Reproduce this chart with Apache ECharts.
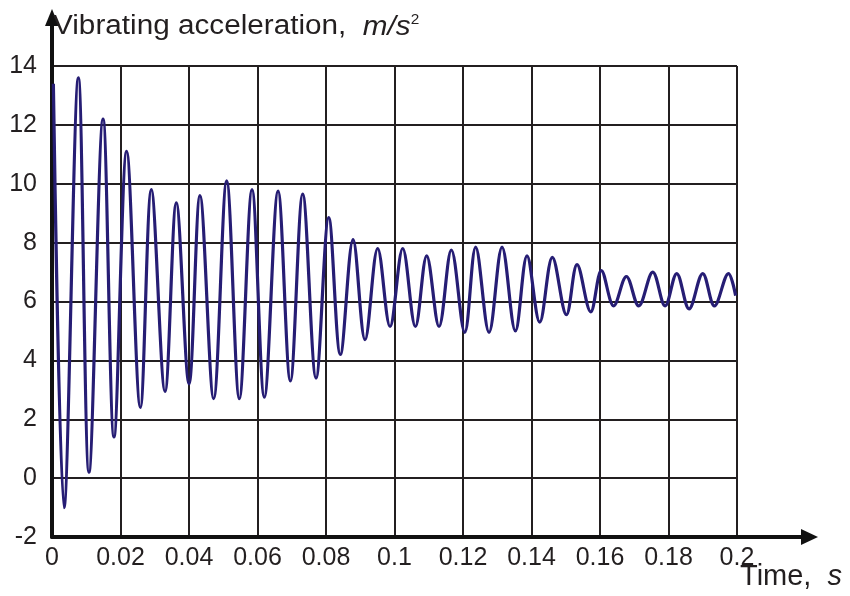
<!DOCTYPE html>
<html>
<head>
<meta charset="utf-8">
<script src="https://cdn.jsdelivr.net/npm/echarts@6/dist/echarts.min.js"></script>
<style>
  html, body { margin: 0; padding: 0; background: #ffffff; }
  #chart { width: 850px; height: 596px; }
</style>
</head>
<body>
<div id="chart"></div>
<script>
// Time of each peak / trough of the recorded signal, s
const times = [
  0.0004, 0.0035, 0.0077, 0.0108, 0.0149, 0.0181, 0.0218, 0.0258,
  0.0290, 0.0330, 0.0363, 0.0400, 0.0432, 0.0472, 0.0510, 0.0547,
  0.0584, 0.0620, 0.0660, 0.0696, 0.0732, 0.0771, 0.0808, 0.0842,
  0.0879, 0.0914, 0.0951, 0.0987, 0.1024, 0.1061, 0.1094, 0.1130,
  0.1166, 0.1205, 0.1237, 0.1276, 0.1314, 0.1353, 0.1387, 0.1424,
  0.1461, 0.1502, 0.1533, 0.1573, 0.1604, 0.1640, 0.1677, 0.1713,
  0.1754, 0.1790, 0.1824, 0.1860, 0.1900, 0.1934, 0.1975, 0.1996
];

// Vibrating acceleration at those instants, m/s^2
const acceleration = [
  13.4, -1.0, 13.6, 0.2, 12.2, 1.4, 11.1, 2.4,
  9.8, 2.95, 9.35, 3.2, 9.6, 2.7, 10.1, 2.7,
  9.8, 2.75, 9.75, 3.3, 9.65, 3.4, 8.85, 4.2,
  8.1, 4.7, 7.8, 5.15, 7.8, 5.15, 7.55, 5.15,
  7.75, 4.95, 7.85, 4.95, 7.85, 5.0, 7.55, 5.3,
  7.5, 5.55, 7.25, 5.65, 7.05, 5.85, 6.85, 5.85,
  7.0, 5.85, 6.95, 5.75, 6.95, 5.85, 6.95, 6.2
];

// Axis tick labels
const xTickLabels = ['0', '0.02', '0.04', '0.06', '0.08', '0.1', '0.12', '0.14', '0.16', '0.18', '0.2'];
const yTickLabels = ['-2', '0', '2', '4', '6', '8', '10', '12', '14'];

// Axis titles
const yTitle = 'Vibrating acceleration,  {it|m/s}{sup|2}';
const xTitle = 'Time,  {it|s}';

const X_MIN = 0, X_MAX = 0.2, X_STEP = 0.02;
const Y_MIN = -2, Y_MAX = 14, Y_STEP = 2;

const FONT = "'Liberation Sans', Arial, Helvetica, sans-serif";
const INK = '#231f20';
const AXIS = '#111111';

const chart = echarts.init(document.getElementById('chart'), null, { renderer: 'canvas' });

const points = times.map((t, i) => [t, acceleration[i]]);

chart.setOption({
  animation: false,
  backgroundColor: '#ffffff',
  grid: { left: 52, right: 113, top: 66, bottom: 59, containLabel: false, outerBoundsMode: 'none' },
  xAxis: {
    type: 'value',
    min: X_MIN, max: X_MAX, interval: X_STEP,
    axisLine: { show: true, onZero: false, lineStyle: { color: AXIS, width: 4 } },
    axisTick: { show: false },
    axisLabel: {
      color: INK, fontFamily: FONT, fontSize: 25, margin: 9,
      formatter: v => xTickLabels[Math.round((v - X_MIN) / X_STEP)]
    },
    splitLine: { show: true, lineStyle: { color: INK, width: 2 } }
  },
  yAxis: {
    type: 'value',
    min: Y_MIN, max: Y_MAX, interval: Y_STEP,
    axisLine: { show: true, onZero: false, lineStyle: { color: AXIS, width: 4 } },
    axisTick: { show: false },
    axisLabel: {
      color: INK, fontFamily: FONT, fontSize: 25, margin: 15,
      formatter: v => yTickLabels[Math.round((v - Y_MIN) / Y_STEP)]
    },
    splitLine: { show: true, lineStyle: { color: INK, width: 2 } }
  },
  series: [{
    type: 'line',
    data: points,
    smooth: 0.35,
    showSymbol: false,
    clip: false,
    lineStyle: { color: '#261d74', width: 3.2 },
    z: 5
  }]
});

// Arrow-tipped extensions of both axes beyond the plotting area, plus axis titles
const origin = chart.convertToPixel({ gridIndex: 0 }, [X_MIN, Y_MIN]);
const xEnd = chart.convertToPixel({ xAxisIndex: 0 }, X_MAX);
const yEnd = chart.convertToPixel({ yAxisIndex: 0 }, Y_MAX);
const xTip = xEnd + 81;
const yTip = yEnd - 57;

chart.setOption({
  graphic: [
    { type: 'line', shape: { x1: xEnd - 2, y1: origin[1], x2: xTip - 12, y2: origin[1] },
      style: { stroke: AXIS, lineWidth: 4 }, z: 10 },
    { type: 'polygon', shape: { points: [[xTip, origin[1]], [xTip - 17, origin[1] - 8], [xTip - 17, origin[1] + 8]] },
      style: { fill: AXIS }, z: 10 },
    { type: 'line', shape: { x1: origin[0], y1: yEnd + 2, x2: origin[0], y2: yTip + 12 },
      style: { stroke: AXIS, lineWidth: 4 }, z: 10 },
    { type: 'polygon', shape: { points: [[origin[0], yTip], [origin[0] - 7, yTip + 17], [origin[0] + 7, yTip + 17]] },
      style: { fill: AXIS }, z: 10 },
    {
      type: 'text', x: origin[0] + 1, y: yEnd - 39, scaleX: 1.1, z: 11,
      style: {
        text: yTitle, fill: INK, fontFamily: FONT, fontSize: 27,
        align: 'left', verticalAlign: 'middle',
        rich: {
          it: { fontStyle: 'italic', fontSize: 27, fill: INK, fontFamily: FONT },
          sup: { fontSize: 14, fill: INK, fontFamily: FONT, verticalAlign: 'top', lineHeight: 14 }
        }
      }
    },
    {
      type: 'text', x: xEnd + 3, y: origin[1] + 40, z: 11,
      style: {
        text: xTitle, fill: INK, fontFamily: FONT, fontSize: 29,
        align: 'left', verticalAlign: 'middle',
        rich: {
          it: { fontStyle: 'italic', fontSize: 29, fill: INK, fontFamily: FONT }
        }
      }
    }
  ]
});
</script>
</body>
</html>
